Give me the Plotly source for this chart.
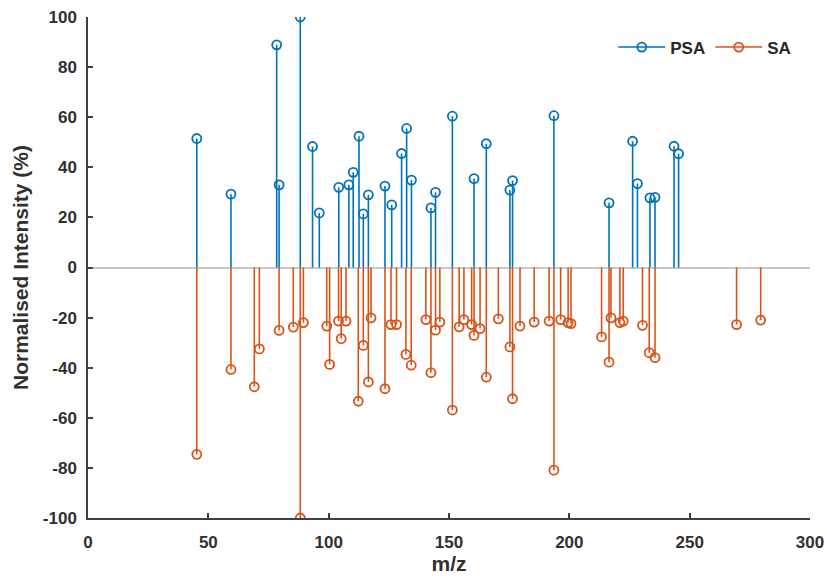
import plotly.graph_objects as go

# ---- data ----
psa_mz = [45.2, 59.4, 78.4, 79.4, 88.2, 93.3, 96.1, 104.2, 108.4, 110.2, 112.6, 114.4, 116.5,
          123.4, 126.2, 130.3, 132.4, 134.4, 142.5, 144.4, 151.4, 160.4, 165.5, 175.3, 176.4,
          193.6, 216.5, 226.3, 228.3, 233.5, 235.6, 243.5, 245.4]
psa_int = [51.5, 29.3, 88.9, 33, 100, 48.3, 21.8, 32, 33, 38, 52.4, 21.4, 29,
           32.5, 25, 45.5, 55.5, 34.9, 23.8, 30, 60.4, 35.5, 49.4, 30.9, 34.7,
           60.6, 25.8, 50.4, 33.5, 27.8, 28, 48.4, 45.4]

sa_mz = [45.2, 59.4, 69.1, 71.2, 79.4, 85.3, 88.2, 89.5, 99.2, 100.4, 104.1, 105.2, 107.2,
         112.3, 114.4, 116.5, 117.6, 123.4, 125.9, 128.2, 132.1, 134.3, 140.4, 142.5, 144.4,
         146.2, 151.4, 154.2, 156.2, 159.4, 160.4, 162.9, 165.5, 170.5, 175.3, 176.4, 179.5,
         185.4, 191.6, 193.6, 196.4, 199.5, 200.7, 213.4, 216.5, 217.3, 221.0, 222.4, 230.4,
         233.2, 235.6, 269.5, 279.5]
sa_int = [-74.6, -40.7, -47.6, -32.5, -25.1, -23.8, -100, -22, -23.4, -38.7, -21.4, -28.4, -21.4,
          -53.4, -31.1, -45.7, -20.1, -48.4, -22.8, -22.8, -34.7, -39, -20.8, -42, -25,
          -21.8, -56.9, -23.7, -20.8, -22.8, -27.1, -24.4, -43.8, -20.5, -31.7, -52.4, -23.4,
          -21.8, -21.4, -80.9, -20.8, -22, -22.4, -27.7, -37.8, -20.1, -22, -21.4, -23.1,
          -34, -36, -22.8, -21]

x_ticks = [0, 50, 100, 150, 200, 250, 300]
y_ticks = [-100, -80, -60, -40, -20, 0, 20, 40, 60, 80, 100]
y_ticktext = [str(v) for v in y_ticks]

series = [("PSA", psa_mz, psa_int, "#0072BD"), ("SA", sa_mz, sa_int, "#D95319")]

fig = go.Figure()
for name, xs, ys, col in series:
    sx, sy = [], []
    for x, y in zip(xs, ys):
        sx += [x, x, None]
        sy += [0, y, None]
    fig.add_trace(go.Scatter(x=sx, y=sy, mode="lines", line=dict(color=col, width=1.6),
                             showlegend=False, hoverinfo="skip"))
    fig.add_trace(go.Scatter(x=xs, y=ys, mode="markers", showlegend=False,
                             marker=dict(symbol="circle-open", size=9, color=col,
                                         line=dict(width=1.8, color=col))))
    fig.add_trace(go.Scatter(x=[None], y=[None], mode="lines+markers", name=name,
                             line=dict(color=col, width=1.6),
                             marker=dict(symbol="circle-open", size=9, color=col,
                                         line=dict(width=1.8, color=col))))

fig.update_layout(
    width=827, height=579,
    margin=dict(l=88, r=17, t=17, b=61),
    plot_bgcolor="white", paper_bgcolor="white",
    font=dict(family="Liberation Sans, Arial, sans-serif", color="#303030"),
    legend=dict(orientation="h", x=0.981, xanchor="right", y=0.975, yanchor="top",
                itemwidth=47,
                font=dict(size=17, weight="bold", color="#262626"),
                bgcolor="rgba(255,255,255,0)"),
    xaxis=dict(range=[0, 300], tickvals=x_ticks, ticks="inside", ticklen=5, tickwidth=1.5,
               tickcolor="#404040", showline=True, linecolor="#404040", linewidth=1.5,
               showgrid=False, zeroline=False, automargin=False, ticklabelstandoff=8,
               tickfont=dict(size=17, weight="bold"),
               title=dict(text="m/z", font=dict(size=21, weight="bold"), standoff=5)),
    yaxis=dict(range=[-100, 100], tickvals=y_ticks, ticktext=y_ticktext, ticks="inside",
               ticklen=5, tickwidth=1.5,
               tickcolor="#404040", showline=True, linecolor="#404040", linewidth=1.5,
               showgrid=False, zeroline=True, zerolinecolor="#c8c8c8", zerolinewidth=2,
               automargin=False, ticklabelstandoff=6,
               tickfont=dict(size=17, weight="bold"),
               title=dict(text="Normalised Intensity (%)", font=dict(size=21, weight="bold"),
                          standoff=8)),
)

fig.write_html("out.html")
